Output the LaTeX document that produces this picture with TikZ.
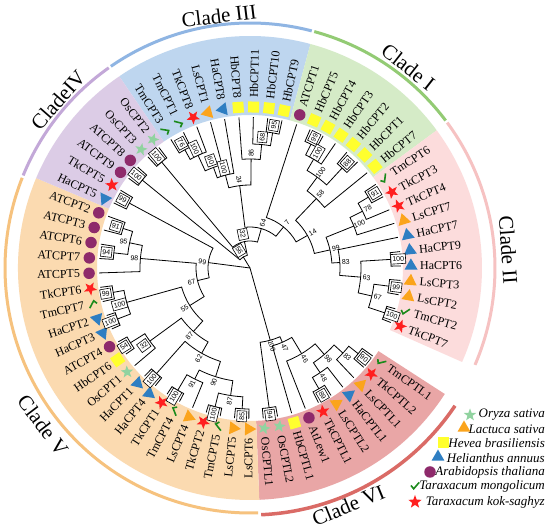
\documentclass[tikz,border=0pt]{standalone}
\usepackage{fontspec}
\setmainfont{Liberation Serif}
\newfontfamily\bsfont{Liberation Sans}
\usetikzlibrary{shapes.geometric}

\definecolor{fI}{HTML}{D5EBC7}
\definecolor{fII}{HTML}{FCDCDC}
\definecolor{fVI}{HTML}{E9A6A6}
\definecolor{fV}{HTML}{FBDAB0}
\definecolor{fIV}{HTML}{DCCCE6}
\definecolor{fIII}{HTML}{BED6EF}
\definecolor{aI}{HTML}{93CB74}
\definecolor{aII}{HTML}{F6C2C2}
\definecolor{aVI}{HTML}{DA6B66}
\definecolor{aV}{HTML}{F6C27E}
\definecolor{aIV}{HTML}{C3A8D8}
\definecolor{aIII}{HTML}{8FB5E3}
\definecolor{cOs}{HTML}{91D3A0}
\definecolor{cLs}{HTML}{FBA41C}
\definecolor{cHb}{HTML}{FFFF2E}
\definecolor{cHa}{HTML}{2E7EC2}
\definecolor{cAt}{HTML}{8E2A6B}
\definecolor{cTm}{HTML}{1B8A1B}
\definecolor{cTk}{HTML}{FF1F1F}

\newcommand\setA[2]{\expandafter\xdef\csname tA-#1\endcsname{#2}}
\newcommand\gA[1]{\csname tA-#1\endcsname}

\tikzset{
  br/.style={line width=0.8pt, black},
  leaflab/.style={font=\fontsize{12}{14}\selectfont, inner sep=0pt},
  bsl/.style={font=\bsfont\fontsize{7}{8}\selectfont, inner sep=0.8pt},
  bsframe/.style={font=\bsfont\fontsize{7}{8}\selectfont, draw, line width=0.6pt, fill=white,
    text height=5pt, text depth=0pt, inner xsep=1.5pt, inner ysep=2.3pt},
  mkOsst/.style={star, star points=5, star point ratio=2.4, minimum size=13pt, inner sep=0pt, fill=cOs},
  mkTkst/.style={star, star points=5, star point ratio=2.4, minimum size=14pt, inner sep=0pt, fill=cTk},
  mkLstr/.style={regular polygon, regular polygon sides=3, minimum size=15pt, inner sep=0pt, fill=cLs},
  mkHatr/.style={regular polygon, regular polygon sides=3, minimum size=15pt, inner sep=0pt, fill=cHa},
  mkHbsq/.style={rectangle, minimum size=11pt, inner sep=0pt, fill=cHb},
  mkAtci/.style={circle, minimum size=11.5pt, inner sep=0pt, fill=cAt},
  chk/.style={draw=cTm, line width=1.6pt},
  cladelab/.style={font=\fontsize{21}{24}\selectfont, inner sep=0pt},
  leglab/.style={font=\itshape\fontsize{13}{15}\selectfont, inner sep=0pt, anchor=east},
  cladearc/.style={line width=3pt},
}

% markers: #1 rotation, #2 position, #3 name
\newcommand\mkOs[3]{\node[mkOsst, rotate=#1] (#3) at (#2) {};}
\newcommand\mkTk[3]{\node[mkTkst, rotate=#1] (#3) at (#2) {};}
\newcommand\mkLs[3]{\node[mkLstr, rotate=#1] (#3) at (#2) {};}
\newcommand\mkHa[3]{\node[mkHatr, rotate=#1] (#3) at (#2) {};}
\newcommand\mkHb[3]{\node[mkHbsq, rotate=#1] (#3) at (#2) {};}
\newcommand\mkAt[3]{\node[mkAtci] (#3) at (#2) {};}
\newcommand\mkTm[3]{\coordinate (#3) at (#2); \draw[chk, shift={(#3)}, rotate=#1] (-4,0.5) -- (-1.3,-2.8) -- (4.2,3.6);}

% leaf: index, name, type
\newcommand\lf[3]{%
  \pgfmathsetmacro\la{72-5.48*#1-(#1>17)*9}%
  \pgfmathsetmacro\la{\la<-90 ? \la+360 : \la}%
  \setA{#2}{\la}%
  \coordinate (#2) at (\la:151);
  \csname mk#3\endcsname{\la}{\la:161}{m-#2}
  \pgfmathtruncatemacro\sd{cos(\la)>=0}%
  \ifnum\sd=1
    \node[leaflab, anchor=west, rotate=\la] (t-#2) at (\la:170) {#2};
  \else
    \pgfmathsetmacro\lb{\la+180}%
    \node[leaflab, anchor=east, rotate=\lb] (t-#2) at (\la:170) {#2};
  \fi
}

% internal node: id, child1, child2, radius, label, framed
\newcommand\nd[6]{%
  \pgfmathsetmacro\nA{\gA{#2}}\pgfmathsetmacro\nB{\gA{#3}}%
  \pgfmathsetmacro\nM{(\nA+\nB)/2}%
  \setA{#1}{\nM}%
  \coordinate (#1) at (\nM:#4);
  \draw[br] (#2) -- (\nA:#4) arc[start angle=\nA, end angle=\nB, radius=#4] -- (#3);
  \pgfmathtruncatemacro\sd{cos(\nM)>=0}%
  \ifnum\sd=1 \edef\rt{\nM}\else\pgfmathsetmacro\rt{\nM+180}\fi
  \ifnum#6=1 \pgfmathsetmacro\lr{#4+7.5}\node[bsframe, rotate=\rt] (b-#1) at (\nM:\lr) {#5};
  \else \pgfmathsetmacro\lr{#4+6}\node[bsl, rotate=\rt] (b-#1) at (\nM:\lr) {#5};\fi
}

\newcommand\sector[3]{\fill[#1] (#2:153) arc[start angle=#2, end angle=#3, radius=153] -- (#3:232) arc[start angle=#3, end angle=#2, radius=232] -- cycle;}

\begin{document}
\begin{tikzpicture}[x=1pt, y=1pt]
\useasboundingbox (0,0) rectangle (550,530);
\fill[white] (0,0) rectangle (550,530);
\begin{scope}[shift={(250,262)}]
  % coloured sectors
  \sector{fIII}{124.3}{74.9}
  \sector{fI}{74.9}{36.4}
  \sector{fII}{36.4}{-23.9}
  \sector{fVI}{-32.9}{-87.7}
  \sector{fV}{-87.7}{-202.8}
  \sector{fIV}{157.2}{124.3}
  % clade arcs
  \draw[cladearc, aIII] (124.6:245) arc[start angle=124.6, end angle=75.4, radius=245];
  \draw[cladearc, aI] (74.8:245) arc[start angle=74.8, end angle=37.0, radius=245];
  \draw[cladearc, aII] (36.4:245) arc[start angle=36.4, end angle=-23.3, radius=245];
  \draw[cladearc, aVI, line width=3.5pt] (-33.9:247) arc[start angle=-33.9, end angle=-87.4, radius=247];
  \draw[cladearc, aV] (-88.1:245) arc[start angle=-88.1, end angle=-201.6, radius=245];
  \draw[cladearc, aIV] (157.8:245) arc[start angle=157.8, end angle=125.2, radius=245];
  % clade labels
  \node[cladelab, rotate=7] (cl3) at (97:254) {Clade III};
  \node[cladelab, rotate=-38.2] (cl1) at (51.8:256) {Clade I};
  \node[cladelab, rotate=-86] (cl2) at (4:259) {Clade II};
  \node[cladelab, rotate=22.5] (cl6) at (-67.5:257) {Clade VI};
  \node[cladelab, rotate=-52.8] (cl5) at (217.2:260) {Clade V};
  \node[cladelab, rotate=48.8] (cl4) at (138.8:255) {CladeIV};
  % leaves
  \lf{0}{ATCPT1}{At}
  \lf{1}{HbCPT5}{Hb}
  \lf{2}{HbCPT4}{Hb}
  \lf{3}{HbCPT3}{Hb}
  \lf{4}{HbCPT2}{Hb}
  \lf{5}{HbCPT1}{Hb}
  \lf{6}{HbCPT7}{Hb}
  \lf{7}{TmCPT6}{Tm}
  \lf{8}{TkCPT3}{Tk}
  \lf{9}{TkCPT4}{Tk}
  \lf{10}{LsCPT7}{Ls}
  \lf{11}{HaCPT7}{Ha}
  \lf{12}{HaCPT9}{Ha}
  \lf{13}{HaCPT6}{Ha}
  \lf{14}{LsCPT3}{Ls}
  \lf{15}{LsCPT2}{Ls}
  \lf{16}{TmCPT2}{Tm}
  \lf{17}{TkCPT7}{Tk}
  \lf{18}{TmCPTL1}{Tm}
  \lf{19}{TkCPTL2}{Tk}
  \lf{20}{LsCPTL1}{Ls}
  \lf{21}{HaCPTL1}{Ha}
  \lf{22}{LsCPTL2}{Ls}
  \lf{23}{TkCPTL1}{Tk}
  \lf{24}{AtLew1}{At}
  \lf{25}{HbCPTL1}{Hb}
  \lf{26}{OsCPTL2}{Os}
  \lf{27}{OsCPTL1}{Os}
  \lf{28}{LsCPT6}{Ls}
  \lf{29}{LsCPT5}{Ls}
  \lf{30}{TmCPT5}{Tm}
  \lf{31}{TkCPT2}{Tk}
  \lf{32}{LsCPT4}{Ls}
  \lf{33}{TmCPT4}{Tm}
  \lf{34}{TkCPT1}{Tk}
  \lf{35}{HaCPT4}{Ha}
  \lf{36}{HaCPT1}{Ha}
  \lf{37}{OsCPT1}{Os}
  \lf{38}{HbCPT6}{Hb}
  \lf{39}{ATCPT4}{At}
  \lf{40}{HaCPT3}{Ha}
  \lf{41}{HaCPT2}{Ha}
  \lf{42}{TmCPT7}{Tm}
  \lf{43}{TkCPT6}{Tk}
  \lf{44}{ATCPT5}{At}
  \lf{45}{ATCPT7}{At}
  \lf{46}{ATCPT6}{At}
  \lf{47}{ATCPT3}{At}
  \lf{48}{ATCPT2}{At}
  \lf{49}{HaCPT5}{Ha}
  \lf{50}{TkCPT5}{Tk}
  \lf{51}{ATCPT9}{At}
  \lf{52}{ATCPT8}{At}
  \lf{53}{OsCPT3}{Os}
  \lf{54}{OsCPT2}{Os}
  \lf{55}{TmCPT3}{Tm}
  \lf{56}{TmCPT1}{Tm}
  \lf{57}{TkCPT8}{Tk}
  \lf{58}{LsCPT1}{Ls}
  \lf{59}{HaCPT8}{Ha}
  \lf{60}{HbCPT8}{Hb}
  \lf{61}{HbCPT11}{Hb}
  \lf{62}{HbCPT10}{Hb}
  \lf{63}{HbCPT9}{Hb}
  % Clade I
  \nd{nI1}{HbCPT5}{HbCPT4}{138}{99}{1}
  \nd{nI2}{nI1}{HbCPT3}{126}{100}{1}
  \nd{nI3}{HbCPT2}{HbCPT1}{136}{88}{1}
  \nd{nI4}{nI2}{nI3}{113}{100}{0}
  \nd{nI5}{nI4}{HbCPT7}{96}{58}{0}
  % Clade II
  \nd{nII1}{TmCPT6}{TkCPT3}{138}{91}{1}
  \nd{nII2}{nII1}{TkCPT4}{126}{78}{0}
  \nd{nII3}{nII2}{LsCPT7}{112}{100}{0}
  \nd{nII4}{HaCPT9}{HaCPT6}{141}{100}{1}
  \nd{nII5}{LsCPT3}{LsCPT2}{140}{99}{1}
  \nd{nII6}{TmCPT2}{TkCPT7}{142}{100}{1}
  \nd{nII7}{nII5}{nII6}{125}{67}{0}
  \nd{nII8}{nII4}{nII7}{111}{63}{0}
  \nd{nII9}{HaCPT7}{nII8}{90}{83}{0}
  \nd{nII10}{nII3}{nII9}{82}{99}{0}
  \nd{n14}{nI5}{nII10}{66}{14}{0}
  \nd{n7}{ATCPT1}{n14}{53}{7}{0}
  % Clade III
  \nd{nIII1}{TmCPT3}{TmCPT1}{135}{76}{1}
  \nd{nIII2}{nIII1}{TkCPT8}{124}{100}{1}
  \nd{nIII3}{nIII2}{LsCPT1}{107}{60}{1}
  \nd{nIII4}{nIII3}{HaCPT8}{96}{100}{1}
  \nd{nIII5}{HbCPT10}{HbCPT9}{137}{95}{1}
  \nd{nIII6}{HbCPT11}{nIII5}{124}{68}{1}
  \nd{nIII7}{HbCPT8}{nIII6}{109}{86}{0}
  \nd{n24}{nIII4}{nIII7}{83}{24}{0}
  \nd{n64}{n24}{n7}{41}{64}{0}
  % Clade IV
  \nd{nIV1}{OsCPT3}{OsCPT2}{138}{100}{1}
  \nd{nIV2}{ATCPT9}{ATCPT8}{139}{100}{1}
  \nd{nIV3}{HaCPT5}{TkCPT5}{137}{99}{1}
  \nd{n32}{nIV1}{n64}{27}{32}{1}
  \nd{n56}{nIV2}{n32}{13}{56}{1}
  % Clade V
  \nd{nV1}{ATCPT2}{ATCPT3}{133}{91}{1}
  \nd{nV3}{ATCPT6}{ATCPT7}{137}{94}{1}
  \nd{nV2}{nV1}{nV3}{123}{95}{0}
  \nd{nV4}{nV2}{ATCPT5}{110}{98}{0}
  \nd{nV5}{TmCPT7}{TkCPT6}{139}{99}{1}
  \nd{nV6}{HaCPT3}{HaCPT2}{142}{100}{1}
  \nd{nV7}{nV5}{nV6}{128}{100}{1}
  \nd{nV8}{HbCPT6}{ATCPT4}{141}{54}{1}
  \nd{nV9}{OsCPT1}{nV8}{124}{32}{1}
  \nd{nV10}{HaCPT4}{HaCPT1}{141}{100}{1}
  \nd{nV11}{TmCPT4}{TkCPT1}{142}{100}{1}
  \nd{nV12}{LsCPT4}{nV11}{124}{91}{0}
  \nd{nV13}{TmCPT5}{TkCPT2}{143}{100}{1}
  \nd{nV14}{LsCPT5}{LsCPT6}{141}{85}{1}
  \nd{nV15}{nV13}{nV14}{129}{87}{0}
  \nd{nV16}{nV12}{nV15}{114}{90}{0}
  \nd{nV17}{nV10}{nV16}{98}{62}{0}
  \nd{nV18}{nV9}{nV17}{85}{87}{0}
  \nd{nV19}{nV7}{nV18}{71}{55}{0}
  \nd{nV20}{nV4}{nV19}{54}{67}{0}
  \nd{n99}{nIV3}{nV20}{42}{99}{0}
  % Clade VI
  \nd{nVI1}{TmCPTL1}{TkCPTL2}{138}{90}{1}
  \nd{nVI2}{nVI1}{LsCPTL1}{126}{83}{0}
  \nd{nVI3}{LsCPTL2}{TkCPTL1}{139}{89}{1}
  \nd{nVI4}{HaCPTL1}{nVI3}{126}{48}{0}
  \nd{nVI5}{nVI2}{nVI4}{114}{98}{0}
  \nd{nVI6}{nVI5}{AtLew1}{100}{46}{0}
  \nd{nVI7}{nVI6}{HbCPTL1}{81}{47}{0}
  \nd{nVI8}{OsCPTL2}{OsCPTL1}{141}{94}{1}
  \nd{nVI9}{nVI7}{nVI8}{75}{100}{0}
  % root
  \coordinate (root) at (0,0);
  \draw[br] (root) -- (n56);
  \draw[br] (root) -- (n99);
  \draw[br] (root) -- (nVI9);
\end{scope}
% legend
\node[leglab] (lg1) at (545,115) {Oryza sativa};
\node[leglab] (lg2) at (545,101) {Lactuca sativa};
\node[leglab] (lg3) at (545,87) {Hevea brasiliensis};
\node[leglab] (lg4) at (545,72) {Helianthus annuus};
\node[leglab] (lg5) at (545,58) {Arabidopsis thaliana};
\node[leglab] (lg6) at (545,44) {Taraxacum mongolicum};
\node[leglab] (lg7) at (545,28) {Taraxacum kok-saghyz};
\mkOs{0}{470,115}{lm1}
\mkLs{0}{464,102}{lm2}
\mkHb{0}{443,87}{lm3}
\mkHa{0}{438,73}{lm4}
\mkAt{0}{430,58}{lm5}
\mkTm{0}{415,44}{lm6}
\mkTk{0}{415,28}{lm7}
\end{tikzpicture}
\end{document}
